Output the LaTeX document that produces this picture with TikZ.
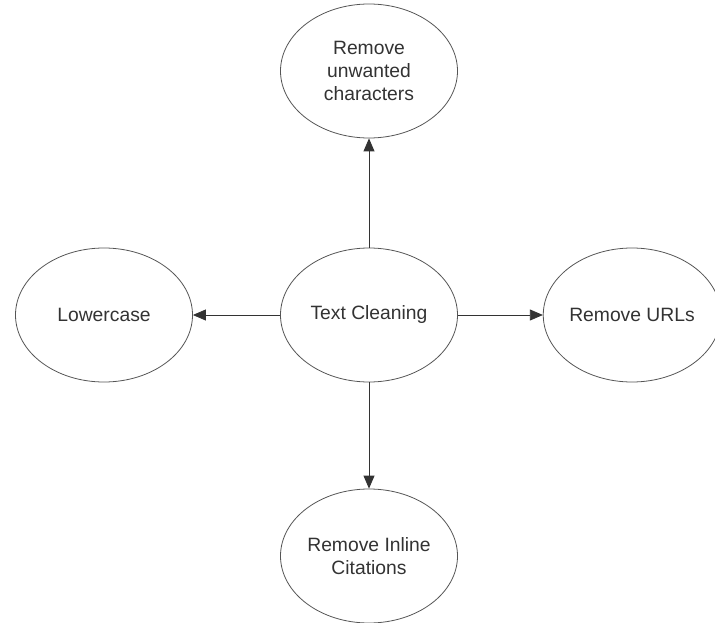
\documentclass[tikz,border=0pt]{standalone}
\usepackage{fontspec}
\setmainfont{Liberation Sans}
\usetikzlibrary{shapes.geometric,arrows.meta}
\definecolor{inkgray}{HTML}{333333}
\definecolor{rimgray}{HTML}{555555}

\begin{document}
\begin{tikzpicture}[%
      x=1pt, y=-1pt,
      stepbox/.style={ellipse, draw=rimgray, line width=0.8pt, fill=white,
        minimum width=177pt, minimum height=134pt, inner sep=0pt,
        align=center, text=inkgray, font=\fontsize{19.3}{23}\selectfont},
      link/.style={draw=inkgray, line width=0.8pt,
        -{Triangle[length=13pt,width=11pt]}},
      ]
      \useasboundingbox (0,0) rectangle (715,623);
      \clip (0,0) rectangle (715,623);

      \node [stepbox] (clean) at (369,315) {Text Cleaning};
      \node [stepbox] (chars) at (369,71) {Remove\\unwanted\\characters};
      \node [stepbox] (lower) at (104,315) {Lowercase};
      \node [stepbox] (urls) at (632,315) {Remove URLs};
      \node [stepbox] (cites) at (369,556) {Remove Inline\\Citations};

      \draw [link] (clean.north) -- (chars.south);
      \draw [link] (clean.west) -- (lower.east);
      \draw [link] (clean.east) -- (urls.west);
      \draw [link] (clean.south) -- (cites.north);
      \end{tikzpicture}
\end{document}
